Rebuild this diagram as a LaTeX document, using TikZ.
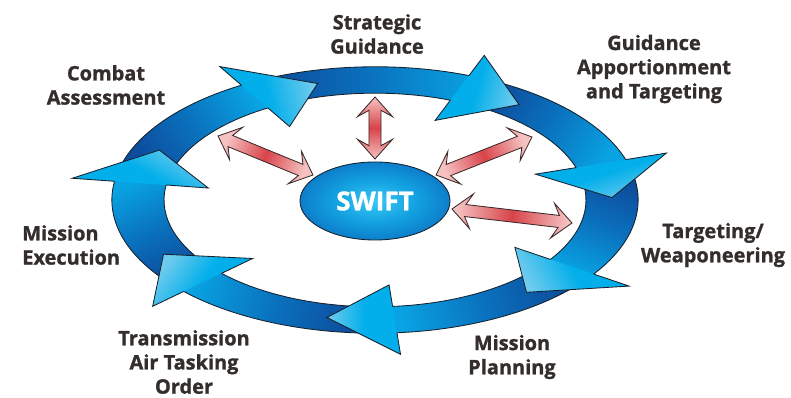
\documentclass[tikz,border=0pt]{standalone}
\usepackage{fontspec}
\setsansfont{Open Sans}[BoldFeatures={FakeBold=1.2}]
\usetikzlibrary{calc, shapes.geometric}

\definecolor{ringdark}{HTML}{0D4C9C}
\definecolor{ringmid}{HTML}{0A72BE}
\definecolor{ringlight}{HTML}{09A2E2}
\definecolor{headcyan}{HTML}{03AFEA}
\definecolor{headtip}{HTML}{6ECBEE}
\definecolor{ringline}{HTML}{17212C}
\definecolor{swiftcore}{HTML}{38C8F5}
\definecolor{swiftmid}{HTML}{12A0E0}
\definecolor{swiftdeep}{HTML}{0A62B8}
\definecolor{swiftrim}{HTML}{1B3F97}
\definecolor{linkpink}{HTML}{F5C2C2}
\definecolor{linkred}{HTML}{D8444A}
\definecolor{linkline}{HTML}{3A2B2B}
\definecolor{textgray}{HTML}{332E2C}

\pgfdeclareradialshading{swiftshade}{\pgfpoint{0bp}{0bp}}{color(0bp)=(swiftcore); color(14bp)=(swiftmid); color(34bp)=(swiftdeep); color(50bp)=(swiftrim)}

\tikzset{
  ringshaft/.style={bottom color=ringdark, top color=ringlight, middle color=ringmid, draw=ringline, line width=0.6pt},
  ringhead/.style={bottom color=headcyan, top color=headtip, middle color=headcyan},
  ringedge/.style={draw=ringline, line width=0.6pt, line join=miter},
  linkfill/.style={left color=linkpink, right color=linkpink, middle color=linkred, draw=linkline, line width=0.6pt},
  phase/.style={font=\sffamily\bfseries\fontsize{14.2}{17.2}\selectfont, text=textgray, align=center, inner sep=0pt}
}

% double arrow between two named coordinates, #3 = shading angle
\newcommand\linkarrow[3]{%
  \path[linkfill, shading angle=#3] (#1)
    -- ($(#1)!14pt!(#2)!12.5pt!90:(#2)$) -- ($(#1)!9.5pt!(#2)!4.3pt!90:(#2)$)
    -- ($(#2)!9.5pt!(#1)!4.3pt!-90:(#1)$) -- ($(#2)!14pt!(#1)!12.5pt!-90:(#1)$)
    -- (#2)
    -- ($(#2)!14pt!(#1)!12.5pt!90:(#1)$) -- ($(#2)!9.5pt!(#1)!4.3pt!90:(#1)$)
    -- ($(#1)!9.5pt!(#2)!4.3pt!-90:(#2)$) -- ($(#1)!14pt!(#2)!12.5pt!-90:(#2)$)
    -- cycle;}

\begin{document}
\begin{tikzpicture}[x=0.025cm, y=-0.025cm]
  \useasboundingbox (0,0) rectangle (791,398);

  % the ring of seven arrows
  \begin{scope}[shift={(375,200)}, x={(5.925cm,0)}, y={(0,3cm)}]
    \foreach \k in {0,...,6}{
      \pgfmathsetmacro\tipang{104-\k*360/7}
      \pgfmathsetmacro\tailang{\tipang+61.4}
      \pgfmathsetmacro\endang{\tipang+15}
      \pgfmathsetmacro\shadeang{atan2(120*(sin(\endang)-sin(\tailang)),237*(cos(\endang)-cos(\tailang)))-90}
      \path[ringshaft, shading angle=\shadeang] (\tailang:1.11)
        arc[start angle=\tailang, end angle=\endang, radius=1.11] -- (\endang:0.89)
        arc[start angle=\endang, end angle=\tailang, radius=0.89] -- cycle;
    }
    \foreach \k in {0,...,6}{
      \pgfmathsetmacro\tipang{104-\k*360/7}
      \pgfmathsetmacro\baseang{\tipang+16.5}
      \pgfmathsetmacro\shadeang{atan2(120*(sin(\tipang)-sin(\baseang)),237*(cos(\tipang)-cos(\baseang)))-90}
      \path[ringhead, shading angle=\shadeang] (\baseang:1.11) -- (\baseang:1.29)
        -- (\tipang:1) -- (\baseang:0.71) -- (\baseang:0.89) -- cycle;
      \draw[ringedge] (\baseang:1.11) -- (\baseang:1.29) -- (\tipang:1) -- (\baseang:0.71) -- (\baseang:0.89);
    }
  \end{scope}

  \node[ellipse, draw=ringline, line width=0.6pt, shading=swiftshade, minimum width=3.75cm,
    minimum height=1.95cm, text=white, font=\sffamily\bfseries\fontsize{18.5}{20}\selectfont] (swift) at (375,201) {SWIFT};

  \coordinate (s1) at (375,159); \coordinate (r1) at (375,97);
  \coordinate (s2) at (313,175); \coordinate (r2) at (218,136);
  \coordinate (s3) at (436,175); \coordinate (r3) at (532,137);
  \coordinate (s4) at (452,209); \coordinate (r4) at (572,223);
  \linkarrow{s1}{r1}{0}
  \linkarrow{s2}{r2}{67.7}
  \linkarrow{s3}{r3}{-68.4}
  \linkarrow{s4}{r4}{-96.7}

  \node[phase] (strat) at (377,34) {Strategic\\Guidance};
  \node[phase] (guide) at (654,69) {Guidance\\Apportionment\\and Targeting};
  \node[phase] (target) at (713,245) {Targeting/\\Weaponeering};
  \node[phase] (plan) at (512,357) {Mission\\Planning};
  \node[phase] (trans) at (184,362) {Transmission\\Air Tasking\\Order};
  \node[phase, align=left, anchor=west] (exec) at (22,245) {Mission\\Execution};
  \node[phase] (combat) at (106,85) {Combat\\Assessment};
\end{tikzpicture}
\end{document}
